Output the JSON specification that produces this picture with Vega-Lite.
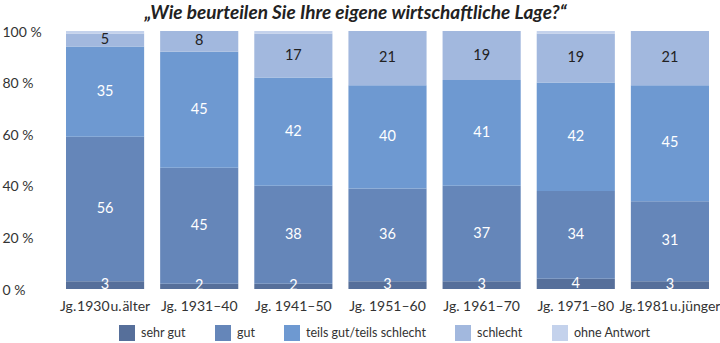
{
  "$schema": "https://vega.github.io/schema/vega-lite/v6.json",
  "autosize": {"type": "none"},
  "width": 659,
  "height": 258,
  "padding": {"left": 58, "top": 31, "right": 3, "bottom": 54},
  "background": "white",
  "config": {"font": "Lato", "view": {"stroke": null}},
  "title": {
    "text": "„Wie beurteilen Sie Ihre eigene wirtschaftliche Lage?“",
    "font": "Lato", "fontSize": 19, "fontWeight": "bold", "fontStyle": "italic",
    "color": "#222222", "anchor": "middle", "frame": "group", "dx": -32, "offset": 2
  },
  "data": {"values": [
    {"jg": "Jg.\u200a1930\u200au.\u200aälter", "kat": "sehr gut", "ord": 1, "wert": 3},
    {"jg": "Jg.\u200a1930\u200au.\u200aälter", "kat": "gut", "ord": 2, "wert": 56},
    {"jg": "Jg.\u200a1930\u200au.\u200aälter", "kat": "teils gut/teils schlecht", "ord": 3, "wert": 35},
    {"jg": "Jg.\u200a1930\u200au.\u200aälter", "kat": "schlecht", "ord": 4, "wert": 5},
    {"jg": "Jg.\u200a1930\u200au.\u200aälter", "kat": "ohne Antwort", "ord": 5, "wert": 1},
    {"jg": "Jg. 1931–40", "kat": "sehr gut", "ord": 1, "wert": 2},
    {"jg": "Jg. 1931–40", "kat": "gut", "ord": 2, "wert": 45},
    {"jg": "Jg. 1931–40", "kat": "teils gut/teils schlecht", "ord": 3, "wert": 45},
    {"jg": "Jg. 1931–40", "kat": "schlecht", "ord": 4, "wert": 8},
    {"jg": "Jg. 1931–40", "kat": "ohne Antwort", "ord": 5, "wert": 0},
    {"jg": "Jg. 1941–50", "kat": "sehr gut", "ord": 1, "wert": 2},
    {"jg": "Jg. 1941–50", "kat": "gut", "ord": 2, "wert": 38},
    {"jg": "Jg. 1941–50", "kat": "teils gut/teils schlecht", "ord": 3, "wert": 42},
    {"jg": "Jg. 1941–50", "kat": "schlecht", "ord": 4, "wert": 17},
    {"jg": "Jg. 1941–50", "kat": "ohne Antwort", "ord": 5, "wert": 1},
    {"jg": "Jg. 1951–60", "kat": "sehr gut", "ord": 1, "wert": 3},
    {"jg": "Jg. 1951–60", "kat": "gut", "ord": 2, "wert": 36},
    {"jg": "Jg. 1951–60", "kat": "teils gut/teils schlecht", "ord": 3, "wert": 40},
    {"jg": "Jg. 1951–60", "kat": "schlecht", "ord": 4, "wert": 21},
    {"jg": "Jg. 1951–60", "kat": "ohne Antwort", "ord": 5, "wert": 0},
    {"jg": "Jg. 1961–70", "kat": "sehr gut", "ord": 1, "wert": 3},
    {"jg": "Jg. 1961–70", "kat": "gut", "ord": 2, "wert": 37},
    {"jg": "Jg. 1961–70", "kat": "teils gut/teils schlecht", "ord": 3, "wert": 41},
    {"jg": "Jg. 1961–70", "kat": "schlecht", "ord": 4, "wert": 19},
    {"jg": "Jg. 1961–70", "kat": "ohne Antwort", "ord": 5, "wert": 0},
    {"jg": "Jg. 1971–80", "kat": "sehr gut", "ord": 1, "wert": 4},
    {"jg": "Jg. 1971–80", "kat": "gut", "ord": 2, "wert": 34},
    {"jg": "Jg. 1971–80", "kat": "teils gut/teils schlecht", "ord": 3, "wert": 42},
    {"jg": "Jg. 1971–80", "kat": "schlecht", "ord": 4, "wert": 19},
    {"jg": "Jg. 1971–80", "kat": "ohne Antwort", "ord": 5, "wert": 1},
    {"jg": "Jg.\u200a1981\u200au.\u200ajünger", "kat": "sehr gut", "ord": 1, "wert": 3},
    {"jg": "Jg.\u200a1981\u200au.\u200ajünger", "kat": "gut", "ord": 2, "wert": 31},
    {"jg": "Jg.\u200a1981\u200au.\u200ajünger", "kat": "teils gut/teils schlecht", "ord": 3, "wert": 45},
    {"jg": "Jg.\u200a1981\u200au.\u200ajünger", "kat": "schlecht", "ord": 4, "wert": 21},
    {"jg": "Jg.\u200a1981\u200au.\u200ajünger", "kat": "ohne Antwort", "ord": 5, "wert": 0}
  ]},
  "transform": [
    {"stack": "wert", "groupby": ["jg"], "sort": [{"field": "ord", "order": "ascending"}], "as": ["y0", "y1"]},
    {"calculate": "(datum.y0 + datum.y1) / 2", "as": "ymid"}
  ],
  "encoding": {
    "x": {
      "field": "jg", "type": "nominal", "sort": null, "title": null,
      "scale": {"paddingInner": 0.17, "paddingOuter": 0.085},
      "axis": {"labelAngle": 0, "ticks": false, "domain": false, "labelPadding": 10, "labelFontSize": 14, "labelColor": "#333333", "labelFont": "Lato"}
    }
  },
  "layer": [
    {
      "mark": {"type": "bar"},
      "encoding": {
        "y": {"field": "y0", "type": "quantitative", "scale": {"domain": [0, 100], "nice": false},
          "title": null,
          "axis": {"values": [0, 20, 40, 60, 80, 100], "labelExpr": "datum.value + ' %'", "grid": false, "ticks": false, "domain": false,
            "labelAlign": "left", "labelPadding": 56, "labelOffset": 1, "labelFontSize": 14, "labelColor": "#333333", "labelFont": "Lato"}},
        "y2": {"field": "y1"},
        "color": {
          "field": "kat", "type": "nominal",
          "scale": {
            "domain": ["sehr gut", "gut", "teils gut/teils schlecht", "schlecht", "ohne Antwort"],
            "range": ["#566f9a", "#6586b9", "#6e99d1", "#a2b8de", "#c4d2ec"]
          },
          "legend": {
            "title": null, "orient": "none", "direction": "horizontal", "legendX": 61, "legendY": 294,
            "symbolType": "square", "symbolSize": 256, "symbolStrokeWidth": 0, "symbolOpacity": 1,
            "labelFontSize": 12.5, "labelFont": "Lato", "labelColor": "#333333", "labelOffset": 6, "columnPadding": 29
          }
        }
      }
    },
    {
      "transform": [{"filter": "datum.kat != 'ohne Antwort'"}],
      "mark": {"type": "text", "fontSize": 14.5, "font": "Lato", "baseline": "middle"},
      "encoding": {
        "y": {"field": "ymid", "type": "quantitative"},
        "text": {"field": "wert", "type": "quantitative"},
        "color": {
          "condition": {"test": "datum.kat == 'schlecht'", "value": "#222222"},
          "value": "#ffffff"
        }
      }
    }
  ]
}
